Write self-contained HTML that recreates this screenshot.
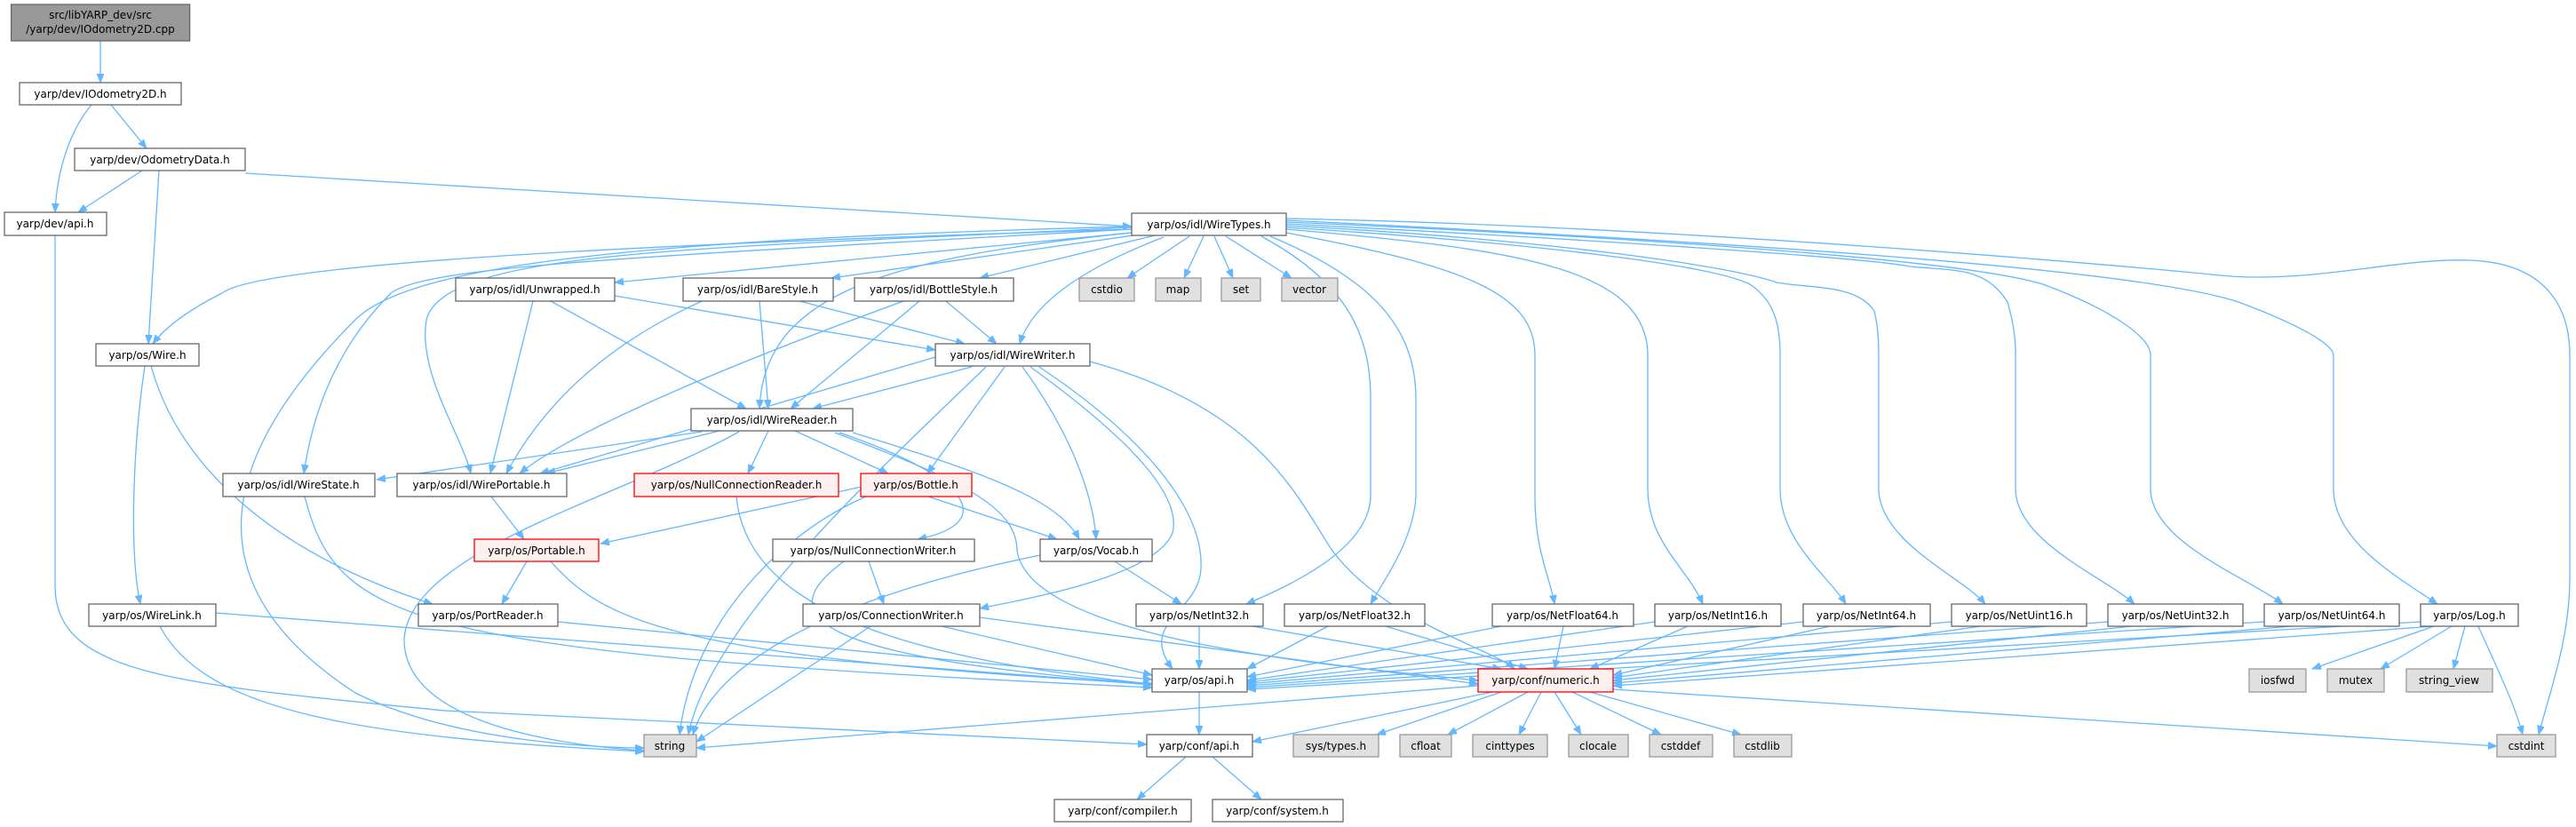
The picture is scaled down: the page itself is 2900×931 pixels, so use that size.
<!DOCTYPE html>
<html><head><meta charset="utf-8"><style>
html,body{margin:0;padding:0;background:#fff;}
svg{display:block}
.e{fill:none;stroke:#63b8ff;stroke-width:1.3}
.n rect{fill:#fff;stroke:#666;stroke-width:1.3}
.g rect{fill:#e0e0e0;stroke:#999;stroke-width:1.3}
.r rect{fill:#fff0f0;stroke:#f00;stroke-width:1.3}
text{font-family:"DejaVu Sans","Liberation Sans",sans-serif;font-size:12px;fill:#000;text-anchor:middle}
</style></head><body>
<svg width="2900" height="931" viewBox="0 0 2900 931" xmlns="http://www.w3.org/2000/svg">
<defs><marker id="a" markerUnits="userSpaceOnUse" markerWidth="11" markerHeight="9" refX="10" refY="4" orient="auto"><path d="M0,0 L10,4 L0,8z" fill="#63b8ff" stroke="#63b8ff" stroke-width="0.8"/></marker></defs>
<g class="e" marker-end="url(#a)">
<path d="M113,46 L113,93"/>
<path d="M125,118 L165,167"/>
<path d="M103,118 C80,145 64,190 62,239"/>
<path d="M160,192 L88,239"/>
<path d="M179,192 L167,387"/>
<path d="M276,195 L1274,255"/>
<path d="M62,265 L62,660 C62,760 200,770 500,800 L1291,838"/>
<path d="M1274,258 C900,270 300,290 250,330 C210,350 185,370 172,387"/>
<path d="M1274,262 L692,318"/>
<path d="M1276,265 L936,313"/>
<path d="M1300,265 L1103,313"/>
<path d="M1339,266 L1269,313"/>
<path d="M1355,266 L1333,313"/>
<path d="M1367,266 L1388,313"/>
<path d="M1380,266 L1454,313"/>
<path d="M1310,267 C1250,290 1165,330 1148,387"/>
<path d="M1274,262 C1000,290 860,330 855,460"/>
<path d="M1274,258 C700,290 480,300 440,330 C370,400 350,480 342,533"/>
<path d="M1274,256 C800,280 500,280 480,360 C470,420 520,490 530,533"/>
<path d="M1274,255 C700,270 460,300 400,360 C260,500 200,650 400,780 C520,840 700,842 725,842"/>
<path d="M1420,266 C1520,320 1543,380 1543,450 L1543,560 C1540,620 1450,660 1403,680"/>
<path d="M1430,266 C1560,320 1594,380 1594,450 L1594,560 C1590,610 1560,650 1543,680"/>
<path d="M1448,262 C1650,300 1728,330 1728,400 L1728,560 C1728,620 1745,650 1750,680"/>
<path d="M1448,258 C1700,280 1855,300 1855,400 L1855,550 C1855,610 1900,640 1917,680"/>
<path d="M1448,256 C1750,275 1930,300 1970,320 C2000,340 2004,370 2004,400 L2004,550 C2004,610 2060,650 2078,680"/>
<path d="M1448,254 C1750,270 1950,300 2000,318 C2040,325 2090,320 2110,350 C2115,370 2115,390 2115,400 L2115,550 C2115,610 2210,650 2235,680"/>
<path d="M1448,252 C1800,270 2100,290 2150,300 C2200,305 2235,300 2260,340 C2269,370 2269,390 2269,400 L2269,550 C2269,610 2370,650 2403,680"/>
<path d="M1448,250 C1800,265 2200,290 2300,320 C2380,350 2421,380 2421,400 L2421,550 C2421,610 2530,650 2570,680"/>
<path d="M1448,248 C1900,270 2400,300 2520,340 C2600,370 2627,390 2627,400 L2627,550 C2627,610 2700,650 2744,680"/>
<path d="M1448,246 C1900,255 2400,300 2500,310 C2600,320 2700,290 2780,293 C2870,296 2893,350 2893,400 L2893,650 C2893,720 2870,780 2858,827"/>
<path d="M692,333 L1053,394"/>
<path d="M620,339 L840,460"/>
<path d="M600,339 L552,533"/>
<path d="M900,339 L1086,387"/>
<path d="M855,339 L865,460"/>
<path d="M790,339 C700,380 620,440 570,533"/>
<path d="M1065,339 L1122,387"/>
<path d="M1035,339 L890,460"/>
<path d="M1017,339 C850,400 650,480 585,533"/>
<path d="M1094,413 L915,460"/>
<path d="M1053,402 L608,533"/>
<path d="M1131,413 L1044,533"/>
<path d="M1151,413 C1200,480 1230,550 1234,607"/>
<path d="M1160,413 C1280,500 1330,560 1320,600 C1300,650 1150,675 1103,685"/>
<path d="M1170,413 C1300,500 1355,580 1352,640 C1350,690 1280,700 1320,753"/>
<path d="M1110,413 C1000,520 800,700 775,827"/>
<path d="M1227,407 C1420,460 1460,560 1500,620 C1560,700 1680,730 1705,753"/>
<path d="M790,486 L424,540"/>
<path d="M810,485 L615,533"/>
<path d="M865,485 L842,533"/>
<path d="M895,485 L1000,533"/>
<path d="M960,487 C1100,530 1190,560 1215,607"/>
<path d="M945,487 C1100,540 1120,590 1033,607"/>
<path d="M832,486 C700,560 460,620 455,720 C455,820 650,840 725,845"/>
<path d="M940,487 C1080,540 1145,570 1145,620 C1160,720 1500,750 1664,766"/>
<path d="M163,412 C150,500 145,620 158,680"/>
<path d="M170,412 C200,520 300,620 487,680"/>
<path d="M243,690 L1297,771"/>
<path d="M180,705 C230,800 400,830 725,846"/>
<path d="M343,559 C380,700 450,735 1297,774"/>
<path d="M553,559 L590,607"/>
<path d="M593,632 L565,680"/>
<path d="M620,632 C680,700 760,740 1297,770"/>
<path d="M628,700 L1297,765"/>
<path d="M970,548 L676,612"/>
<path d="M1045,559 L1190,607"/>
<path d="M975,559 C880,600 780,700 765,827"/>
<path d="M829,559 C840,680 1000,740 1297,770"/>
<path d="M978,632 L995,680"/>
<path d="M950,632 C870,690 900,740 1297,770"/>
<path d="M1255,632 L1330,680"/>
<path d="M1171,625 C900,680 800,760 780,827"/>
<path d="M1060,705 L1297,760"/>
<path d="M980,705 L784,835"/>
<path d="M1103,695 L1664,770"/>
<path d="M1350,705 L1350,753"/>
<path d="M1410,705 L1690,753"/>
<path d="M1495,705 L1404,753"/>
<path d="M1560,705 L1720,753"/>
<path d="M1690,705 L1404,762"/>
<path d="M1760,705 L1750,753"/>
<path d="M1863,700 L1404,766"/>
<path d="M1900,705 L1790,753"/>
<path d="M2030,700 L1404,768"/>
<path d="M2060,705 L1816,760"/>
<path d="M2197,700 L1404,770"/>
<path d="M2230,705 L1816,763"/>
<path d="M2373,700 L1404,772"/>
<path d="M2400,705 L1816,766"/>
<path d="M2549,700 L1404,774"/>
<path d="M2580,705 L1816,769"/>
<path d="M2725,700 L1404,776"/>
<path d="M2740,705 L1816,772"/>
<path d="M2740,705 L2603,753"/>
<path d="M2760,705 L2680,753"/>
<path d="M2775,705 L2762,753"/>
<path d="M2790,705 C2810,750 2830,790 2840,827"/>
<path d="M1350,779 L1350,827"/>
<path d="M1664,772 L784,842"/>
<path d="M1680,779 L1410,835"/>
<path d="M1816,776 L2811,840"/>
<path d="M1690,779 L1550,827"/>
<path d="M1720,779 L1630,827"/>
<path d="M1735,779 L1710,827"/>
<path d="M1750,779 L1780,827"/>
<path d="M1770,779 L1870,827"/>
<path d="M1790,779 L1960,827"/>
<path d="M1335,852 L1280,900"/>
<path d="M1365,852 L1420,900"/>
</g>
<g class="n">
<g style="fill:#999"><rect x="12.6" y="5" width="201" height="41" style="fill:#999;stroke:#666"/></g>
<rect x="22" y="93" width="182" height="25"/>
<rect x="84" y="167" width="192" height="25"/>
<rect x="5" y="239" width="115" height="26"/>
<rect x="108" y="387" width="116" height="25"/>
<rect x="513" y="313" width="179" height="26"/>
<rect x="769" y="313" width="169" height="26"/>
<rect x="962" y="313" width="179" height="26"/>
<rect x="1274" y="240" width="174" height="25"/>
<rect x="1053" y="387" width="174" height="25"/>
<rect x="778" y="460" width="182" height="25"/>
<rect x="251" y="533" width="171" height="26"/>
<rect x="447" y="533" width="191" height="26"/>
<rect x="870" y="607" width="227" height="25"/>
<rect x="1171" y="607" width="126" height="25"/>
<rect x="100" y="680" width="143" height="25"/>
<rect x="471" y="680" width="157" height="25"/>
<rect x="904" y="680" width="199" height="25"/>
<rect x="1279" y="680" width="143" height="25"/>
<rect x="1446" y="680" width="158" height="25"/>
<rect x="1680" y="680" width="159" height="25"/>
<rect x="1863" y="680" width="142" height="25"/>
<rect x="2030" y="680" width="143" height="25"/>
<rect x="2197" y="680" width="152" height="25"/>
<rect x="2373" y="680" width="152" height="25"/>
<rect x="2549" y="680" width="152" height="25"/>
<rect x="2725" y="680" width="110" height="25"/>
<rect x="1297" y="753" width="107" height="26"/>
<rect x="1291" y="827" width="119" height="25"/>
<rect x="1187" y="900" width="154" height="25"/>
<rect x="1365" y="900" width="147" height="25"/>
</g>
<g class="r">
<rect x="714" y="533" width="230" height="26"/>
<rect x="969" y="533" width="125" height="26"/>
<rect x="534" y="607" width="140" height="25"/>
<rect x="1664" y="753" width="152" height="26"/>
</g>
<g class="g">
<rect x="1215" y="313" width="62" height="26"/>
<rect x="1301" y="313" width="51" height="26"/>
<rect x="1375" y="313" width="44" height="26"/>
<rect x="1443" y="313" width="63" height="26"/>
<rect x="2532" y="753" width="64" height="26"/>
<rect x="2620" y="753" width="64" height="26"/>
<rect x="2709" y="753" width="97" height="26"/>
<rect x="725" y="827" width="59" height="25"/>
<rect x="1456" y="827" width="96" height="25"/>
<rect x="1576" y="827" width="58" height="25"/>
<rect x="1658" y="827" width="84" height="25"/>
<rect x="1766" y="827" width="67" height="25"/>
<rect x="1857" y="827" width="71" height="25"/>
<rect x="1952" y="827" width="65" height="25"/>
<rect x="2811" y="827" width="66" height="25"/>
</g>
<g>
<text x="113" y="21">src/libYARP_dev/src</text>
<text x="113" y="37">/yarp/dev/IOdometry2D.cpp</text>
<text x="113" y="110">yarp/dev/IOdometry2D.h</text>
<text x="180" y="184">yarp/dev/OdometryData.h</text>
<text x="62" y="256">yarp/dev/api.h</text>
<text x="166" y="404">yarp/os/Wire.h</text>
<text x="602" y="330">yarp/os/idl/Unwrapped.h</text>
<text x="853" y="330">yarp/os/idl/BareStyle.h</text>
<text x="1051" y="330">yarp/os/idl/BottleStyle.h</text>
<text x="1361" y="257">yarp/os/idl/WireTypes.h</text>
<text x="1140" y="404">yarp/os/idl/WireWriter.h</text>
<text x="869" y="477">yarp/os/idl/WireReader.h</text>
<text x="336" y="550">yarp/os/idl/WireState.h</text>
<text x="542" y="550">yarp/os/idl/WirePortable.h</text>
<text x="829" y="550">yarp/os/NullConnectionReader.h</text>
<text x="1031" y="550">yarp/os/Bottle.h</text>
<text x="604" y="624">yarp/os/Portable.h</text>
<text x="983" y="624">yarp/os/NullConnectionWriter.h</text>
<text x="1234" y="624">yarp/os/Vocab.h</text>
<text x="171" y="697">yarp/os/WireLink.h</text>
<text x="549" y="697">yarp/os/PortReader.h</text>
<text x="1003" y="697">yarp/os/ConnectionWriter.h</text>
<text x="1350" y="697">yarp/os/NetInt32.h</text>
<text x="1525" y="697">yarp/os/NetFloat32.h</text>
<text x="1759" y="697">yarp/os/NetFloat64.h</text>
<text x="1934" y="697">yarp/os/NetInt16.h</text>
<text x="2101" y="697">yarp/os/NetInt64.h</text>
<text x="2273" y="697">yarp/os/NetUint16.h</text>
<text x="2449" y="697">yarp/os/NetUint32.h</text>
<text x="2625" y="697">yarp/os/NetUint64.h</text>
<text x="2780" y="697">yarp/os/Log.h</text>
<text x="1350" y="770">yarp/os/api.h</text>
<text x="1740" y="770">yarp/conf/numeric.h</text>
<text x="1350" y="844">yarp/conf/api.h</text>
<text x="1264" y="917">yarp/conf/compiler.h</text>
<text x="1438" y="917">yarp/conf/system.h</text>
<text x="1246" y="330">cstdio</text>
<text x="1326" y="330">map</text>
<text x="1397" y="330">set</text>
<text x="1474" y="330">vector</text>
<text x="2564" y="770">iosfwd</text>
<text x="2652" y="770">mutex</text>
<text x="2757" y="770">string_view</text>
<text x="754" y="844">string</text>
<text x="1504" y="844">sys/types.h</text>
<text x="1605" y="844">cfloat</text>
<text x="1700" y="844">cinttypes</text>
<text x="1799" y="844">clocale</text>
<text x="1892" y="844">cstddef</text>
<text x="1984" y="844">cstdlib</text>
<text x="2844" y="844">cstdint</text>
</g>
</svg>
</body></html>
